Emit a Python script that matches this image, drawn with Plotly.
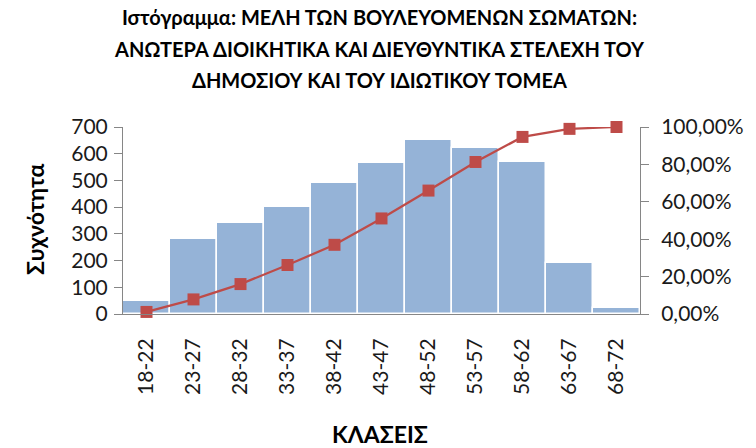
import plotly.graph_objects as go

categories = ["18-22", "23-27", "28-32", "33-37", "38-42", "43-47",
              "48-52", "53-57", "58-62", "63-67", "68-72"]
frequency = [47, 280, 340, 400, 489, 564, 651, 623, 568, 191, 24]
cumulative_pct = [0.011, 0.078, 0.160, 0.262, 0.370, 0.511,
                  0.660, 0.813, 0.947, 0.990, 1.000]

title_lines = ["Ιστόγραμμα: ΜΕΛΗ ΤΩΝ ΒΟΥΛΕΥΟΜΕΝΩΝ ΣΩΜΑΤΩΝ:",
               "ΑΝΩΤΕΡΑ ΔΙΟΙΚΗΤΙΚΑ ΚΑΙ ΔΙΕΥΘΥΝΤΙΚΑ ΣΤΕΛΕΧΗ ΤΟΥ",
               "ΔΗΜΟΣΙΟΥ ΚΑΙ ΤΟΥ ΙΔΙΩΤΙΚΟΥ ΤΟΜΕΑ"]
y_title = "Συχνότητα"
x_title = "ΚΛΑΣΕΙΣ"

FONT = "Lato, Open Sans, sans-serif"
W, H = 756, 448
L, R, T, B = 123, 116, 127, 134
plot_w = W - L - R
plot_h = H - T - B


def px_x(x):
    return (x - L) / plot_w


def px_y(y):
    return (H - B - y) / plot_h


fig = go.Figure()
fig.add_trace(go.Bar(
    x=categories, y=frequency,
    marker=dict(color="#95B3D7", line=dict(color="white", width=1.5)),
    showlegend=False,
))
fig.add_trace(go.Scatter(
    x=categories, y=cumulative_pct, yaxis="y2",
    mode="lines+markers",
    line=dict(color="#BE4B48", width=2.25),
    marker=dict(symbol="square", size=12, color="#BE4B48"),
    cliponaxis=False, showlegend=False,
))

title_font = dict(size=20, family=FONT, color="#000000", weight="bold")
axis_title_font = dict(size=23, family=FONT, color="#000000", weight="bold")
annotations = []
for i, line in enumerate(title_lines):
    annotations.append(dict(text=line, x=px_x(379), y=px_y(17 + 31.5 * i),
                            xref="paper", yref="paper", xanchor="center",
                            yanchor="middle", showarrow=False, font=title_font))
annotations.append(dict(text=y_title, x=px_x(35), y=px_y(220), xref="paper",
                        yref="paper", xanchor="center", yanchor="middle",
                        textangle=-90, showarrow=False, font=axis_title_font))
annotations.append(dict(text=x_title, x=px_x(380), y=px_y(434), xref="paper",
                        yref="paper", xanchor="center", yanchor="middle",
                        showarrow=False, font=axis_title_font))

fig.update_layout(
    width=W, height=H,
    margin=dict(l=L, r=R, t=T, b=B),
    paper_bgcolor="white", plot_bgcolor="white",
    separators=",.",
    bargap=0,
    font=dict(family=FONT, size=21, color="#1a1a1a"),
    xaxis=dict(
        type="category", range=[-0.5, len(categories) - 0.5],
        tickangle=-90, showline=True, linecolor="#868686",
        ticks="", ticklabelstandoff=15, showgrid=False,
        tickfont=dict(size=21),
    ),
    yaxis=dict(
        range=[0, 700], dtick=100, showline=True, linecolor="#868686",
        ticks="outside", ticklen=8, tickcolor="#868686", showgrid=False,
        zeroline=False, tickfont=dict(size=21), ticklabelstandoff=2,
    ),
    yaxis2=dict(
        range=[0, 1], dtick=0.2, tickformat=".2%", overlaying="y", side="right",
        showline=True, linecolor="#868686", ticks="outside", ticklen=8,
        tickcolor="#868686", showgrid=False, zeroline=False,
        tickfont=dict(size=21), ticklabelstandoff=8,
    ),
    annotations=annotations,
)

fig.write_html("out.html", config={"displayModeBar": False},
               post_script="document.body.style.margin='0';")
